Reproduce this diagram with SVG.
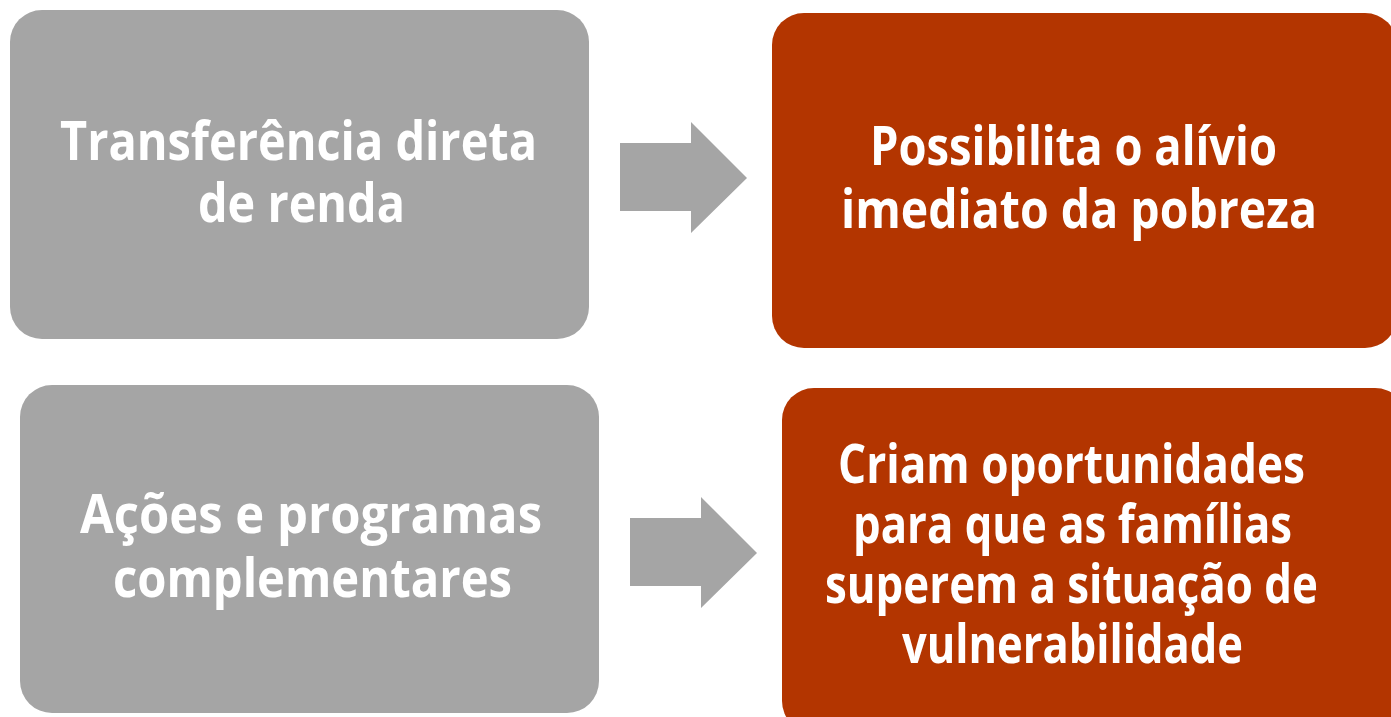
<svg xmlns="http://www.w3.org/2000/svg" width="1391" height="717" viewBox="0 0 1391 717">
<style>
.gray{fill:#A5A5A5}
.red{fill:#B33500}
.arrow{fill:#A5A5A5}
.t{font-family:"Open Sans","Liberation Sans",sans-serif;font-weight:bold;font-size:53px;fill:#FFFFFF;text-anchor:middle}
</style>
<rect width="1391" height="717" fill="#FFFFFF"/>
<g id="node-transferencia">
<rect class="gray" x="10" y="10" width="579" height="329" rx="32" ry="32"/>
<text class="t" x="298.5" y="160" textLength="477" lengthAdjust="spacingAndGlyphs">Transferência direta</text>
<text class="t" x="301.5" y="222" textLength="207" lengthAdjust="spacingAndGlyphs">de renda</text>
</g>
<g id="node-possibilita">
<rect class="red" x="772" y="13" width="625" height="335" rx="32" ry="32"/>
<text class="t" x="1073.5" y="165" textLength="407" lengthAdjust="spacingAndGlyphs">Possibilita o alívio</text>
<text class="t" x="1079" y="228" textLength="476" lengthAdjust="spacingAndGlyphs">imediato da pobreza</text>
</g>
<g id="node-acoes">
<rect class="gray" x="20" y="385" width="579" height="328" rx="32" ry="32"/>
<text class="t" x="311" y="533" textLength="462" lengthAdjust="spacingAndGlyphs">Ações e programas</text>
<text class="t" x="312.5" y="597" textLength="399" lengthAdjust="spacingAndGlyphs">complementares</text>
</g>
<g id="node-criam">
<rect class="red" x="782" y="388" width="625" height="345" rx="32" ry="32"/>
<text class="t" x="1071.5" y="483" textLength="467" lengthAdjust="spacingAndGlyphs">Criam oportunidades</text>
<text class="t" x="1072.5" y="543" textLength="439" lengthAdjust="spacingAndGlyphs">para que as famílias</text>
<text class="t" x="1071.5" y="603" textLength="493" lengthAdjust="spacingAndGlyphs">superem a situação de</text>
<text class="t" x="1072.5" y="663" textLength="341" lengthAdjust="spacingAndGlyphs">vulnerabilidade</text>
</g>
<g id="connectors">
<polygon class="arrow" points="620,143 691,143 691,122 747,178 691,233 691,211 620,211"/>
<polygon class="arrow" points="630,518 701,518 701,497 757,553 701,608 701,586 630,586"/>
</g>
</svg>
